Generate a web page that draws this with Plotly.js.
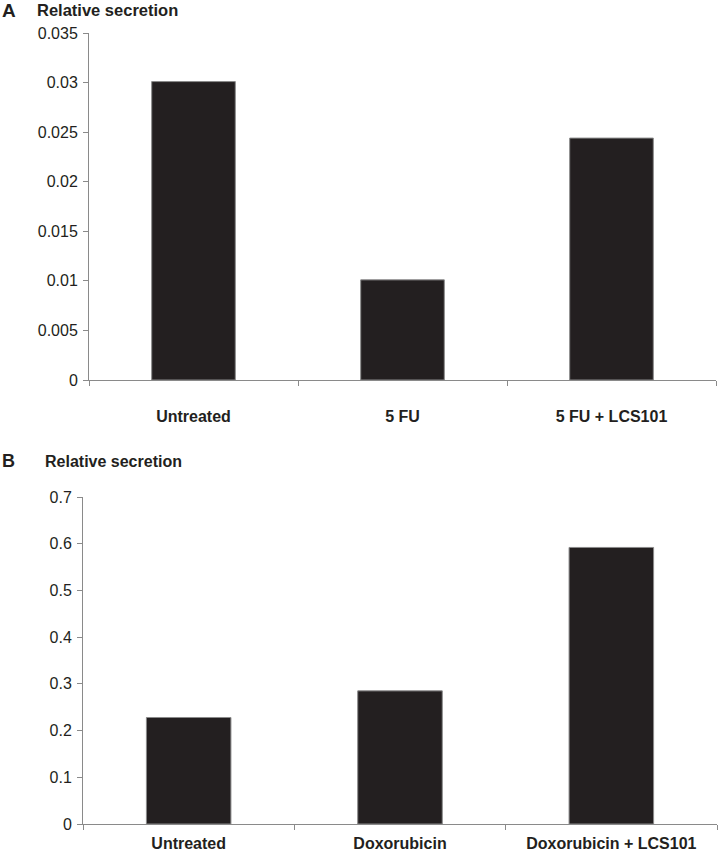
<!DOCTYPE html>
<html>
<head>
<meta charset="utf-8">
<script src="https://cdn.plot.ly/plotly-3.0.1.min.js"></script>
<style>html,body{margin:0;padding:0;background:#fff;}#chart{width:718px;height:855px;}</style>
</head>
<body>
<div id="chart"></div>
<script>
// Panel A data
const categoriesA = ["Untreated", "5 FU", "5 FU + LCS101"];
const valuesA = [0.0301, 0.0101, 0.0244];
// Panel B data
const categoriesB = ["Untreated", "Doxorubicin", "Doxorubicin + LCS101"];
const valuesB = [0.228, 0.285, 0.592];
const yTitle = "Relative secretion";

const W = 718, H = 855;
const ink = "#231f20";
const axisGrey = "#8a8a8a";
const fontFam = "Liberation Sans, Arial, sans-serif";

const barStyle = {color: ink, line: {color: "#8a8a8a", width: 1}};

const traces = [
  {type: "bar", x: categoriesA, y: valuesA, xaxis: "x", yaxis: "y", width: 0.4, marker: barStyle, hoverinfo: "skip"},
  {type: "bar", x: categoriesB, y: valuesB, xaxis: "x2", yaxis: "y2", width: 0.4, marker: barStyle, hoverinfo: "skip"}
];

function px(xp){return xp / W;}
function py(yp){return 1 - yp / H;}

const xCommon = {
  type: "category", range: [-0.5, 2.5], showline: true, linecolor: axisGrey, linewidth: 1,
  ticks: "outside", tickson: "boundaries", ticklen: 5, tickcolor: axisGrey, tickwidth: 1,
  showgrid: false, zeroline: false, fixedrange: true,
  tickfont: {family: fontFam, size: 16, color: ink, weight: "bold"}
};
const yCommon = {
  showline: true, linecolor: axisGrey, linewidth: 1, ticks: "outside", ticklen: 5,
  tickcolor: axisGrey, tickwidth: 1, showgrid: false, zeroline: false, fixedrange: true,
  tickfont: {family: fontFam, size: 16, color: ink}, ticklabelstandoff: 2
};

const layout = {
  width: W, height: H,
  margin: {l: 0, r: 0, t: 0, b: 0},
  paper_bgcolor: "#fff", plot_bgcolor: "#fff",
  showlegend: false,
  bargap: 0.6,
  xaxis: Object.assign({}, xCommon, {domain: [px(89), px(716)], anchor: "y", ticklabelstandoff: 22}),
  yaxis: Object.assign({}, yCommon, {domain: [py(380), py(33)], anchor: "x", range: [0, 0.035], dtick: 0.005, tick0: 0}),
  xaxis2: Object.assign({}, xCommon, {domain: [px(83), px(717)], anchor: "y2", ticklabelstandoff: 5}),
  yaxis2: Object.assign({}, yCommon, {domain: [py(824), py(497)], anchor: "x2", range: [0, 0.7], dtick: 0.1, tick0: 0}),
  annotations: [
    {text: "<b>A</b>", xref: "paper", yref: "paper", x: px(0), y: py(10), xanchor: "left", yanchor: "middle", showarrow: false, font: {family: fontFam, size: 19, color: ink}},
    {text: "<b>" + yTitle + "</b>", xref: "paper", yref: "paper", x: px(35), y: py(10), xanchor: "left", yanchor: "middle", showarrow: false, font: {family: fontFam, size: 16.5, color: ink}},
    {text: "<b>B</b>", xref: "paper", yref: "paper", x: px(0), y: py(461), xanchor: "left", yanchor: "middle", showarrow: false, font: {family: fontFam, size: 18, color: ink}},
    {text: "<b>" + yTitle + "</b>", xref: "paper", yref: "paper", x: px(43), y: py(461), xanchor: "left", yanchor: "middle", showarrow: false, font: {family: fontFam, size: 16, color: ink}}
  ]
};

Plotly.newPlot("chart", traces, layout, {displayModeBar: false, staticPlot: true});
</script>
</body>
</html>
